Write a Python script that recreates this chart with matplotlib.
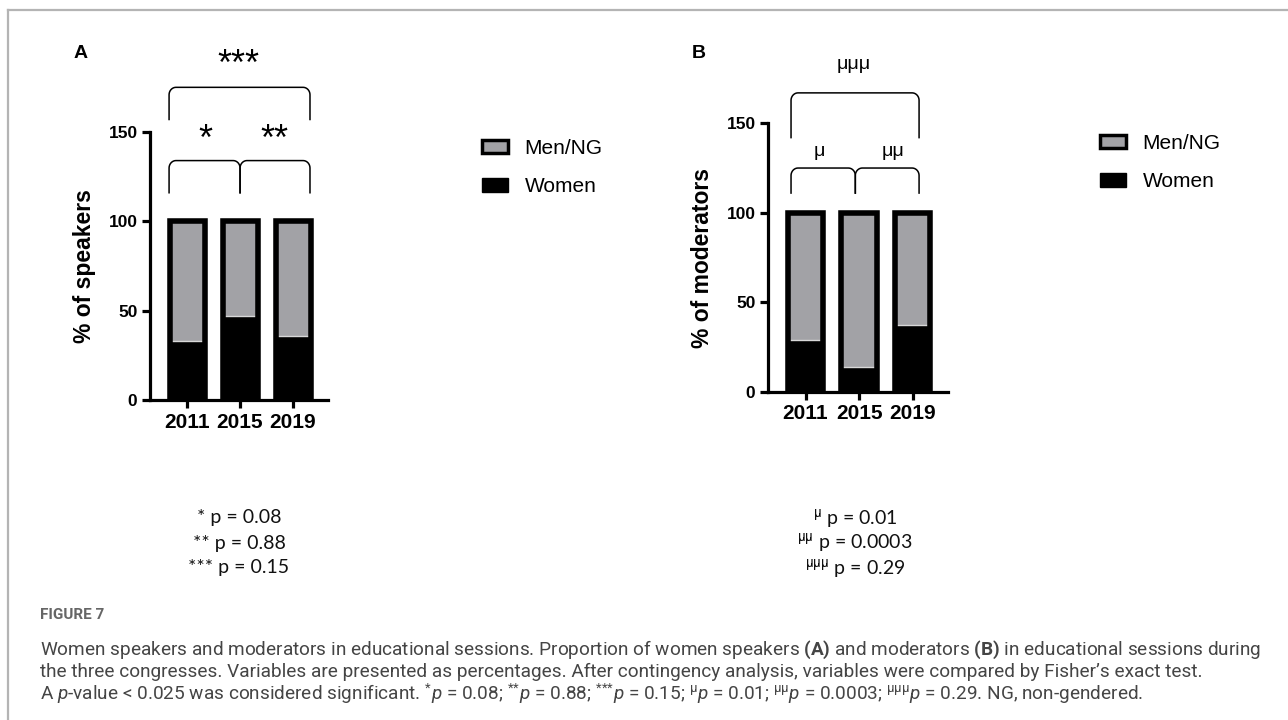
import numpy as np
import matplotlib
matplotlib.use("Agg")
import matplotlib.pyplot as plt
from matplotlib.lines import Line2D
from matplotlib.patches import Patch

plt.rcParams['font.family'] = ['Liberation Sans', 'DejaVu Sans']
plt.rcParams['mathtext.fontset'] = 'custom'
plt.rcParams['mathtext.rm'] = 'Roboto'
plt.rcParams['mathtext.it'] = 'Roboto:italic'
plt.rcParams['mathtext.bf'] = 'Roboto:bold'

# data
years = ['2011', '2015', '2019']
speakers_women = [33, 47, 36]
speakers_men = [67, 53, 64]
moderators_women = [29, 14, 37]
moderators_men = [71, 86, 63]
series_labels = ['Men/NG', 'Women']
yticks = [0, 50, 100, 150]

marks_a = ['*', '**', '***']
marks_b = ['μ', 'μμ', 'μμμ']
pvals_a = ['* p = 0.08', '** p = 0.88', '*** p = 0.15']
pvals_b = [r'$^{\mathrm{\mu}}$ p = 0.01', r'$^{\mathrm{\mu\mu}}$ p = 0.0003', r'$^{\mathrm{\mu\mu\mu}}$ p = 0.29']

caption = [
    r"Women speakers and moderators in educational sessions. Proportion of women speakers $\mathbf{(A)}$ and moderators $\mathbf{(B)}$ in educational sessions during",
    "the three congresses. Variables are presented as percentages. After contingency analysis, variables were compared by Fisher\u2019s exact test.",
    r"A $p$-value < 0.025 was considered significant. $^{*}p$ = 0.08; $^{{*}{*}}p$ = 0.88; $^{{*}{*}{*}}p$ = 0.15; "
    r"$^{\mathrm{\mu}}p$ = 0.01; $^{\mathrm{\mu\mu}}p$ = 0.0003; $^{\mathrm{\mu\mu\mu}}p$ = 0.29. NG, non-gendered.",
]

GREY = '#a2a2a6'
W, H = 1288, 720
fig = plt.figure(figsize=(W / 100, H / 100), dpi=100)


def bracket(ax, x0, x1, ytop, ybot, rx, ry):
    # bracket with rounded corners
    t = np.linspace(0, np.pi / 2, 12)
    lx = x0 + rx - rx * np.cos(t)
    ly = ytop - ry + ry * np.sin(t)
    rxs = x1 - rx + rx * np.sin(t)
    rys = ytop - ry + ry * np.cos(t)
    xs = np.concatenate([[x0], lx, rxs, [x1]])
    ys = np.concatenate([[ybot], ly, rys, [ybot]])
    ax.plot(xs, ys, color='black', lw=1.1, clip_on=False)


def panel(rect, women, men, ylabel, marks, br, letter, leg_pos):
    ax = fig.add_axes(rect)
    x = np.arange(len(years))
    ax.bar(x, women, width=0.66, color='black', edgecolor='black', lw=0.5)
    ax.bar(x, men, bottom=women, width=0.66, color=GREY, edgecolor='#d8d8d8', lw=1.0)
    totals = np.array(women) + np.array(men)
    ax.bar(x, totals, width=0.66, fill=False, edgecolor='black', lw=4)
    ax.set_ylim(0, 150)
    ax.set_xlim(-0.7, 2.66)
    ax.set_yticks(yticks)
    ax.set_xticks(x)
    ax.set_xticklabels(years)
    for s in ['top', 'right']:
        ax.spines[s].set_visible(False)
    for s in ['left', 'bottom']:
        ax.spines[s].set_linewidth(2.3)
    ax.tick_params(width=2.3, length=6, pad=3)
    ax.tick_params(axis='y', labelsize=12.5)
    ax.tick_params(axis='x', labelsize=15)
    for lab in ax.get_xticklabels() + ax.get_yticklabels():
        lab.set_fontweight('bold')
    ax.set_ylabel(ylabel, fontsize=16.5, fontweight='bold', labelpad=9)

    # significance brackets
    xl, xm, xr, low_top, low_bot, up_top, up_bot, low_txt, up_txt, s1x, s2x, upx, fs = br
    bracket(ax, xl, xm, low_top, low_bot, 0.13, 4.2)
    bracket(ax, xm, xr, low_top, low_bot, 0.13, 4.2)
    bracket(ax, xl, xr, up_top, up_bot, 0.13, 4.2)
    ax.text(s1x, low_txt, marks[0], ha='center', va='center', fontsize=fs, clip_on=False)
    ax.text(s2x, low_txt, marks[1], ha='center', va='center', fontsize=fs, clip_on=False)
    ax.text(upx, up_txt, marks[2], ha='center', va='center', fontsize=fs, clip_on=False)

    fig.text(rect[0] - 0.059, 0.926, letter, fontsize=14, fontweight='bold', va='center')

    handles = [Patch(facecolor=GREY, edgecolor='black', lw=2.5), Patch(facecolor='black', edgecolor='black')]
    fig.legend(handles, series_labels, loc='upper left', bbox_to_anchor=leg_pos,
               frameon=False, fontsize=15, handlelength=1.25, handleheight=0.62,
               handletextpad=0.8, labelspacing=0.92, borderaxespad=0, borderpad=0)
    return ax


ax_a = panel([150 / W, 1 - 400 / H, 178 / W, 268 / H], speakers_women, speakers_men,
             '% of speakers', marks_a,
             (-0.34, 1.0, 2.32, 134, 116, 175, 157, 145, 187, 0.35, 1.64, 0.96, 26),
             'A', (482 / W, 1 - 139 / H))
ax_b = panel([768 / W, 1 - 391.7 / H, 180 / W, 268.4 / H], moderators_women, moderators_men,
             '% of moderators', marks_b,
             (-0.27, 0.93, 2.12, 125, 111, 167, 142, 134, 183, 0.26, 1.64, 0.9, 14),
             'B', (1100 / W, 1 - 134 / H))

# p-value notes under each panel
for cx, lines in [(239, pvals_a), (855, pvals_b)]:
    for i, s in enumerate(lines):
        fig.text(cx / W, 1 - (518 + 25 * i) / H, s, ha='center', va='center',
                 fontsize=14, family='Lato', color='#111111')

# figure frame
fig.add_artist(Line2D([8 / W, 1], [1 - 10 / H, 1 - 10 / H], color='#b4b4b4', lw=1.6))
fig.add_artist(Line2D([8 / W, 8 / W], [0, 1 - 10 / H], color='#b4b4b4', lw=1.6))

# caption
fig.text(40 / W, 1 - 615 / H, 'FIGURE 7', fontsize=11, fontweight='bold',
         family='Roboto', color='#666666', va='center')
cap_texts = []
for i, s in enumerate(caption):
    t = fig.text(40 / W, 1 - (650 + 22 * i) / H, s, fontsize=13,
                 family='Roboto', color='#454545', va='center')
    cap_texts.append(t)
r = fig.canvas.get_renderer()
w0 = cap_texts[0].get_window_extent(renderer=r).width
scale = 1218 / w0
for t in cap_texts:
    t.set_fontsize(13 * scale)

fig.savefig('out.png', dpi=100)
